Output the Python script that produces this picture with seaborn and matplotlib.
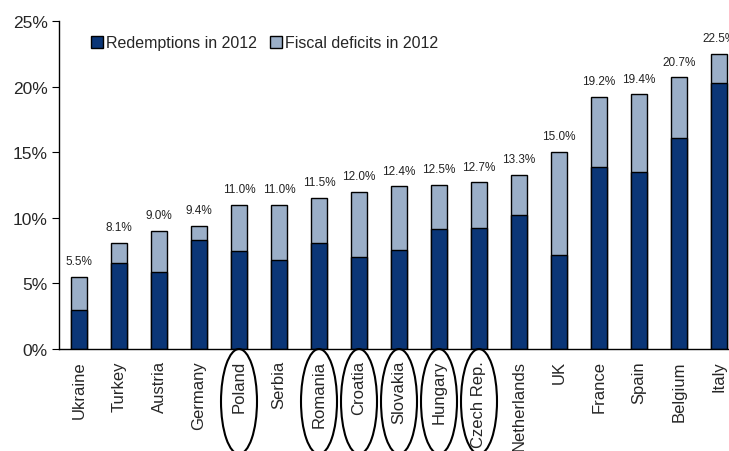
import matplotlib
matplotlib.use("Agg")
import matplotlib.pyplot as plt
import matplotlib.transforms as mtransforms
from matplotlib.patches import Ellipse, Patch
import seaborn as sns
import pandas as pd

countries = ["Ukraine", "Turkey", "Austria", "Germany", "Poland", "Serbia", "Romania",
             "Croatia", "Slovakia", "Hungary", "Czech Rep.", "Netherlands", "UK",
             "France", "Spain", "Belgium", "Italy"]
totals = [5.5, 8.1, 9.0, 9.4, 11.0, 11.0, 11.5, 12.0, 12.4, 12.5, 12.7, 13.3, 15.0,
          19.2, 19.4, 20.7, 22.5]
redemptions = [3.0, 6.55, 5.85, 8.3, 7.45, 6.8, 8.1, 7.0, 7.55, 9.15, 9.2, 10.2, 7.2,
               13.9, 13.5, 16.1, 20.25]
circled = ["Poland", "Romania", "Croatia", "Slovakia", "Hungary", "Czech Rep."]

dark = "#0B3677"
light = "#9BAFC8"

sns.set_style("white")
plt.rcParams["font.family"] = ["Liberation Sans", "DejaVu Sans"]

df = pd.DataFrame({"country": countries, "total": totals, "redemptions": redemptions})

fig = plt.figure(figsize=(7.29, 4.52), dpi=100)
ax = fig.add_axes([59 / 729, 102 / 452, 680 / 729, 328 / 452])

# total bar in light blue, redemptions drawn over it in dark blue
sns.barplot(data=df, x="country", y="total", color=light, edgecolor="black",
            linewidth=1.0, width=0.42, saturation=1, ax=ax)
sns.barplot(data=df, x="country", y="redemptions", color=dark, edgecolor="black",
            linewidth=1.0, width=0.42, saturation=1, ax=ax)

for i, t in enumerate(totals):
    ax.annotate(f"{t:.1f}%", (i, t), xytext=(0, 7), textcoords="offset points",
                ha="center", va="bottom", fontsize=8.5, color="#222222",
                annotation_clip=False)

ax.set_xlim(-0.5, len(countries) - 0.5)
ax.set_ylim(0, 25)
ax.set_yticks([0, 5, 10, 15, 20, 25])
ax.set_yticklabels([f"{v}%" for v in [0, 5, 10, 15, 20, 25]], fontsize=12.5)
ax.set_xticks(range(len(countries)))
ax.set_xticklabels(countries, rotation=90, fontsize=12)
ax.set_xticks([i - 0.5 for i in range(len(countries) + 1)], minor=True)
ax.tick_params(axis="x", which="major", length=0, pad=8)
ax.tick_params(axis="x", which="minor", length=5, direction="out", color="black")
ax.tick_params(axis="y", length=5, direction="out", color="black", left=True, pad=3)
ax.set_xlabel("")
ax.set_ylabel("")
for side in ["top", "right"]:
    ax.spines[side].set_visible(False)
for side in ["left", "bottom"]:
    ax.spines[side].set_color("black")
    ax.spines[side].set_linewidth(1.0)

# ellipses around some country labels
trans = mtransforms.blended_transform_factory(ax.transData, ax.transAxes)
for c in circled:
    i = countries.index(c)
    e = Ellipse((i, -0.16), width=0.9, height=0.32, transform=trans, fill=False,
                edgecolor="black", linewidth=1.5, clip_on=False)
    ax.add_patch(e)

handles = [Patch(facecolor=dark, edgecolor="black"), Patch(facecolor=light, edgecolor="black")]
ax.legend(handles, ["Redemptions in 2012", "Fiscal deficits in 2012"], ncol=2,
          loc="center left", bbox_to_anchor=(0.038, 0.933), frameon=False,
          fontsize=11.5, handlelength=0.75, handleheight=0.75, handletextpad=0.2,
          columnspacing=0.8, borderaxespad=0)

fig.savefig("out.png", dpi=100)
